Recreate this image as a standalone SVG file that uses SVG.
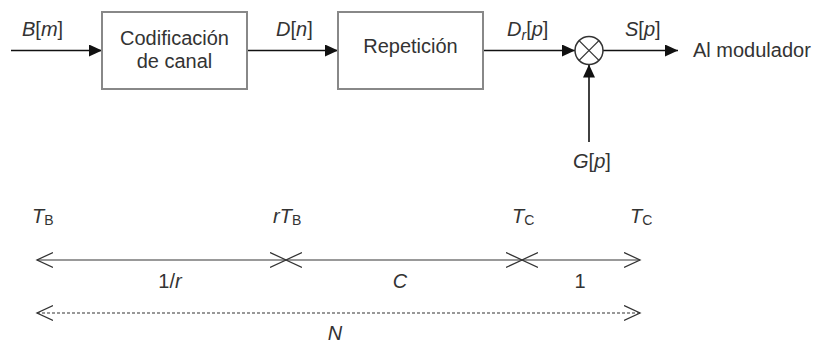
<svg xmlns="http://www.w3.org/2000/svg" width="816" height="343" viewBox="0 0 816 343">
<style>
text{font-family:"Liberation Sans",Arial,sans-serif;font-size:20px;fill:#333}
.i{font-style:italic}
.sub{font-size:14px}
.box{fill:#fff;stroke:#888;stroke-width:2}
.wire{stroke:#111;stroke-width:1.6;fill:none}
.dim{stroke:#999;stroke-width:2.2;fill:none}
.dash{stroke:#777;stroke-width:1.4;stroke-dasharray:3,2;fill:none}
</style>
<defs>
<marker id="ah" markerUnits="userSpaceOnUse" markerWidth="13" markerHeight="12" refX="13" refY="6" orient="auto">
<path d="M0,0 L13,6 L0,12 z" fill="#111"/>
</marker>
<marker id="oh" markerUnits="userSpaceOnUse" markerWidth="18" markerHeight="18" refX="16" refY="8.5" orient="auto-start-reverse">
<path d="M0,1 L16,8.5 L0,16" fill="none" stroke="#333" stroke-width="1.3"/>
</marker>
</defs>
<g id="connectors">
<line class="wire" x1="11" y1="50.5" x2="102" y2="50.5" marker-end="url(#ah)"/>
<line class="wire" x1="247" y1="50.5" x2="338" y2="50.5" marker-end="url(#ah)"/>
<line class="wire" x1="483" y1="50.5" x2="575" y2="50.5" marker-end="url(#ah)"/>
<line class="wire" x1="603" y1="50.5" x2="678" y2="50.5" marker-end="url(#ah)"/>
<line class="wire" x1="589" y1="142" x2="589" y2="64.5" marker-end="url(#ah)"/>
</g>
<g id="codificacion">
<rect class="box" x="102" y="12" width="145" height="77"/>
<text x="174.5" y="45" text-anchor="middle">Codificación</text>
<text x="174.5" y="68" text-anchor="middle">de canal</text>
</g>
<g id="repeticion">
<rect class="box" x="338" y="12" width="145" height="77"/>
<text x="410.5" y="53" text-anchor="middle">Repetición</text>
</g>
<g id="multiplicador">
<circle cx="589" cy="50.5" r="14" fill="#fff" stroke="#333" stroke-width="1.5"/>
<line x1="579.1" y1="40.6" x2="598.9" y2="60.4" stroke="#333" stroke-width="1.3"/>
<line x1="598.9" y1="40.6" x2="579.1" y2="60.4" stroke="#333" stroke-width="1.3"/>
</g>
<g id="labels">
<text x="22" y="36"><tspan class="i">B</tspan>[<tspan class="i">m</tspan>]</text>
<text x="276" y="36"><tspan class="i">D</tspan>[<tspan class="i">n</tspan>]</text>
<text x="507" y="36"><tspan class="i">D</tspan><tspan class="i sub" dy="4">r</tspan><tspan dy="-4">[</tspan><tspan class="i">p</tspan>]</text>
<text x="625" y="36"><tspan class="i">S</tspan>[<tspan class="i">p</tspan>]</text>
<text x="693" y="57">Al modulador</text>
<text x="573" y="168"><tspan class="i">G</tspan>[<tspan class="i">p</tspan>]</text>
</g>
<g id="timeline">
<line class="dim" x1="37" y1="260" x2="286" y2="260" marker-start="url(#oh)" marker-end="url(#oh)"/>
<line class="dim" x1="286" y1="260" x2="522" y2="260" marker-start="url(#oh)" marker-end="url(#oh)"/>
<line class="dim" x1="522" y1="260" x2="640" y2="260" marker-start="url(#oh)" marker-end="url(#oh)"/>
<line class="dash" x1="37" y1="313" x2="640" y2="313" marker-start="url(#oh)" marker-end="url(#oh)"/>
<text x="32" y="223"><tspan class="i">T</tspan><tspan class="sub" dy="2">B</tspan></text>
<text x="273" y="223"><tspan class="i">rT</tspan><tspan class="sub" dy="2">B</tspan></text>
<text x="512" y="223"><tspan class="i">T</tspan><tspan class="sub" dy="2">C</tspan></text>
<text x="630" y="223"><tspan class="i">T</tspan><tspan class="sub" dy="2">C</tspan></text>
<text x="170" y="288" text-anchor="middle">1/<tspan class="i">r</tspan></text>
<text x="400" y="288" text-anchor="middle" class="i">C</text>
<text x="580" y="288" text-anchor="middle">1</text>
<text x="335" y="340" text-anchor="middle" class="i">N</text>
</g>
</svg>
